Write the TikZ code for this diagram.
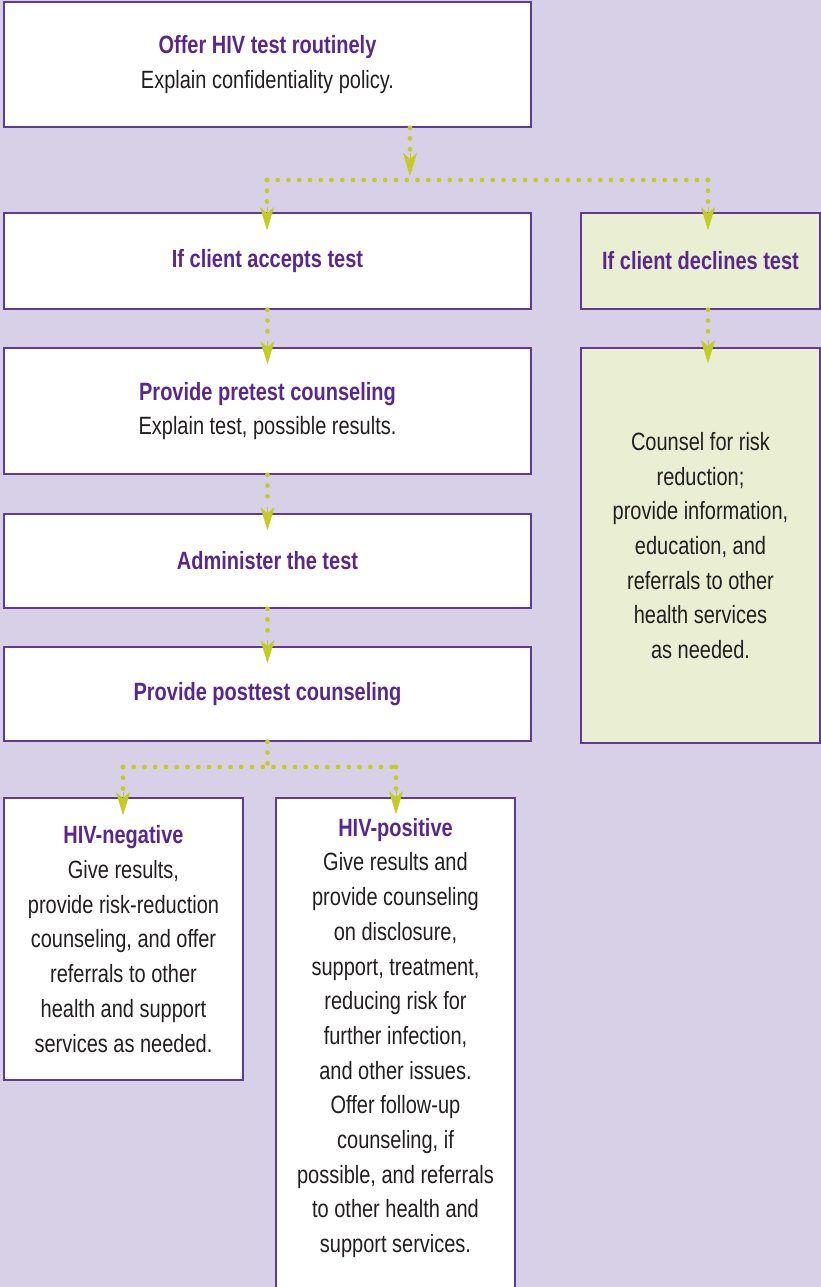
\documentclass[tikz,border=0pt]{standalone}
\usepackage{fontspec}
\setmainfont{Liberation Sans}[FakeStretch=0.80]
\usetikzlibrary{arrows.meta,calc}
\definecolor{bgc}{HTML}{D8D0E7}
\definecolor{bord}{HTML}{5E3C96}
\definecolor{titlec}{HTML}{58288C}
\definecolor{bodyc}{HTML}{231F20}
\definecolor{greenc}{HTML}{C3CC22}
\definecolor{declc}{HTML}{EAEED3}
\newcommand{\ttl}[1]{{\bfseries\color{titlec}#1}}
\begin{document}
\begin{tikzpicture}[x=1pt,y=-1pt,
  box/.style={draw=bord, line width=1.6pt, fill=white, inner sep=0pt, align=center,
    text=bodyc, font=\fontsize{25}{34.7}\selectfont},
  wide/.style={box, minimum width=527pt},
  narrow/.style={box, minimum width=239pt},
  plain/.style={inner sep=0pt, align=center, text=bodyc, font=\fontsize{25}{34.7}\selectfont},
  dots/.style={draw=greenc, line width=4.8pt, line cap=round, dash pattern=on 0pt off 10.75pt},
  tipd/.style={draw=greenc, line width=0.6pt, -{Stealth[length=23pt,width=14pt,inset=6pt,fill=greenc]}}]
\fill[bgc] (0,0) rectangle (821,1287);
\useasboundingbox (0,0) rectangle (821,1287);

\node[wide, minimum height=125pt] (offer) at (267.5,64.5)
  {\ttl{Offer HIV test routinely}\\Explain confidentiality policy.};
\node[wide, minimum height=96pt] (accept) at (267.5,261) {\ttl{If client accepts test}};
\node[narrow, fill=declc, minimum height=96pt] (decline) at (700.5,261) {\ttl{If client declines test}};
\node[wide, minimum height=126pt] (pretest) at (267.5,411)
  {\ttl{Provide pretest counseling}\\Explain test, possible results.};
\node[wide, minimum height=94pt] (admin) at (267.5,561) {\ttl{Administer the test}};
\node[wide, minimum height=94pt] (post) at (267.5,694) {\ttl{Provide posttest counseling}};
\node[narrow, fill=declc, minimum height=395pt] (counsel) at (700.5,545.5)
  {Counsel for risk\\reduction;\\provide information,\\education, and\\referrals to other\\health services\\as needed.};
\node[narrow, minimum height=282pt] (neg) at (123.5,939)
  {\ttl{HIV-negative}\\Give results,\\provide risk-reduction\\counseling, and offer\\referrals to other\\health and support\\services as needed.};
\node[narrow, minimum height=504pt] (pos) at (395.5,1050) {};
\node[plain] (postext) at (395.5,1038)
  {\ttl{HIV-positive}\\Give results and\\provide counseling\\on disclosure,\\support, treatment,\\reducing risk for\\further infection,\\and other issues.\\Offer follow-up\\counseling, if\\possible, and referrals\\to other health and\\support services.};

% upper connectors
\coordinate (jt) at (410,180);
\coordinate (jl) at (267,180);
\coordinate (jr) at (708,180);
\draw[dots] (offer.south -| jt) -- ($(jt)+(0,-28)$);
\draw[tipd] ($(jt)+(0,-27)$) -- ($(jt)+(0,-4)$);
\draw[dots] (jl) -- (jr);
\draw[dots] (jl) -- ($(accept.north -| jl)+(0,-6)$);
\draw[tipd] ($(accept.north -| jl)+(0,-5)$) -- ($(accept.north -| jl)+(0,18)$);
\draw[dots] (jr) -- ($(decline.north -| jr)+(0,-6)$);
\draw[tipd] ($(decline.north -| jr)+(0,-5)$) -- ($(decline.north -| jr)+(0,18)$);
\draw[dots] (decline.south -| jr) -- ($(counsel.north -| jr)+(0,-8)$);
\draw[tipd] ($(counsel.north -| jr)+(0,-7)$) -- ($(counsel.north -| jr)+(0,16)$);
\draw[dots] (accept.south) -- ($(pretest.north)+(0,-7)$);
\draw[tipd] ($(pretest.north)+(0,-6)$) -- ($(pretest.north)+(0,17)$);
\draw[dots] (pretest.south) -- ($(admin.north)+(0,-7)$);
\draw[tipd] ($(admin.north)+(0,-6)$) -- ($(admin.north)+(0,17)$);
\draw[dots] (admin.south) -- ($(post.north)+(0,-7)$);
\draw[tipd] ($(post.north)+(0,-6)$) -- ($(post.north)+(0,17)$);

% lower connectors
\coordinate (kl) at (123,767);
\coordinate (kr) at (396,767);
\draw[dots] (post.south) -- (post.south |- kl);
\draw[dots] (kl) -- (kr);
\draw[dots] (kl) -- ($(neg.north -| kl)+(0,-6)$);
\draw[tipd] ($(neg.north -| kl)+(0,-5)$) -- ($(neg.north -| kl)+(0,18)$);
\draw[dots] (kr) -- ($(pos.north -| kr)+(0,-7)$);
\draw[tipd] ($(pos.north -| kr)+(0,-6)$) -- ($(pos.north -| kr)+(0,17)$);
\end{tikzpicture}
\end{document}
